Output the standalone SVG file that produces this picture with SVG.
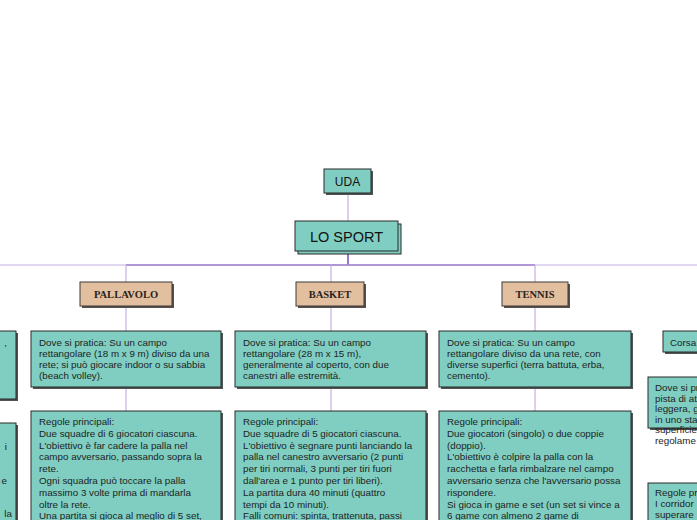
<svg xmlns="http://www.w3.org/2000/svg" width="697" height="520" viewBox="0 0 697 520">
<style>
.bg{fill:#ffffff}
.teal{fill:#7fcec1;stroke:#2b2b2b;stroke-width:1}
.tan{fill:#e2bf9f;stroke:#3a3a3a;stroke-width:1}
.sh{fill:#4f5553}
.shb{fill:#5b5048}
.ln{stroke:#c6b0e2;stroke-width:1.2;fill:none}
.lnd{stroke:#9f80cc;stroke-width:1.4;fill:none}
.lnx{stroke:#7e55bd;stroke-width:1.6;fill:none}
.t{font-family:"Liberation Sans",Arial,sans-serif;font-size:9.8px;fill:#1e1e1e}
.h{font-family:"Liberation Serif","Times New Roman",serif;font-size:10.5px;font-weight:bold;fill:#2a2320}
.top{font-family:"Liberation Sans",Arial,sans-serif;fill:#111}
</style>
<rect class="bg" x="0" y="0" width="697" height="520"/>
<g id="connectors">
<line class="ln" x1="348" y1="193" x2="348" y2="221"/>
<line class="lnx" x1="348" y1="254" x2="348" y2="265"/>
<line class="ln" x1="0" y1="265" x2="697" y2="265"/>
<line class="lnd" x1="126" y1="265" x2="535" y2="265"/>
<line class="ln" x1="126" y1="265" x2="126" y2="282"/>
<line class="ln" x1="331" y1="265" x2="331" y2="282"/>
<line class="ln" x1="535" y1="265" x2="535" y2="282"/>
<line class="ln" x1="126" y1="306" x2="126" y2="331"/>
<line class="ln" x1="331" y1="306" x2="331" y2="331"/>
<line class="ln" x1="535" y1="306" x2="535" y2="331"/>
<line class="ln" x1="126" y1="387" x2="126" y2="411"/>
<line class="ln" x1="331" y1="387" x2="331" y2="411"/>
<line class="ln" x1="535" y1="387" x2="535" y2="411"/>
</g>
<g id="uda">
<rect class="sh" x="326" y="171" width="47" height="24"/>
<rect class="teal" x="324" y="169" width="47" height="24"/>
<text class="top" x="347.5" y="185.5" font-size="12" text-anchor="middle">UDA</text>
</g>
<g id="lo-sport">
<rect class="teal" x="298" y="224" width="103" height="30"/>
<rect class="teal" x="295" y="221" width="103" height="30"/>
<text class="top" x="346.5" y="241.5" font-size="14.5" text-anchor="middle">LO SPORT</text>
</g>
<g id="pallavolo">
<rect class="shb" x="82" y="284" width="92" height="24"/>
<rect class="tan" x="80" y="282" width="92" height="24"/>
<text class="h" x="126" y="298" text-anchor="middle">PALLAVOLO</text>
</g>
<g id="basket">
<rect class="shb" x="298" y="284" width="68" height="24"/>
<rect class="tan" x="296" y="282" width="68" height="24"/>
<text class="h" x="330" y="298" text-anchor="middle">BASKET</text>
</g>
<g id="tennis">
<rect class="shb" x="504" y="284" width="66" height="24"/>
<rect class="tan" x="502" y="282" width="66" height="24"/>
<text class="h" x="535" y="298" text-anchor="middle">TENNIS</text>
</g>
<g id="pallavolo-dove">
<rect class="sh" x="33" y="333" width="190" height="56"/>
<rect class="teal" x="31" y="331" width="190" height="56"/>
<text class="t" x="39" y="346"><tspan x="39">Dove si pratica: Su un campo</tspan><tspan x="39" dy="11.1">rettangolare (18 m x 9 m) diviso da una</tspan><tspan x="39" dy="11.1">rete; si può giocare indoor o su sabbia</tspan><tspan x="39" dy="11.1">(beach volley).</tspan></text>
</g>
<g id="pallavolo-regole">
<rect class="sh" x="33" y="413" width="190" height="150"/>
<rect class="teal" x="31" y="411" width="190" height="150"/>
<text class="t" x="39" y="425"><tspan x="39">Regole principali:</tspan><tspan x="39" dy="11.8">Due squadre di 6 giocatori ciascuna.</tspan><tspan x="39" dy="11.8">L'obiettivo è far cadere la palla nel</tspan><tspan x="39" dy="11.8">campo avversario, passando sopra la</tspan><tspan x="39" dy="11.8">rete.</tspan><tspan x="39" dy="11.8">Ogni squadra può toccare la palla</tspan><tspan x="39" dy="11.8">massimo 3 volte prima di mandarla</tspan><tspan x="39" dy="11.8">oltre la rete.</tspan><tspan x="39" dy="11.8">Una partita si gioca al meglio di 5 set,</tspan></text>
</g>
<g id="basket-dove">
<rect class="sh" x="237" y="333" width="191" height="56"/>
<rect class="teal" x="235" y="331" width="191" height="56"/>
<text class="t" x="243" y="346"><tspan x="243">Dove si pratica: Su un campo</tspan><tspan x="243" dy="11.1">rettangolare (28 m x 15 m),</tspan><tspan x="243" dy="11.1">generalmente al coperto, con due</tspan><tspan x="243" dy="11.1">canestri alle estremità.</tspan></text>
</g>
<g id="basket-regole">
<rect class="sh" x="237" y="413" width="191" height="150"/>
<rect class="teal" x="235" y="411" width="191" height="150"/>
<text class="t" x="243" y="425"><tspan x="243">Regole principali:</tspan><tspan x="243" dy="11.8">Due squadre di 5 giocatori ciascuna.</tspan><tspan x="243" dy="11.8">L'obiettivo è segnare punti lanciando la</tspan><tspan x="243" dy="11.8">palla nel canestro avversario (2 punti</tspan><tspan x="243" dy="11.8">per tiri normali, 3 punti per tiri fuori</tspan><tspan x="243" dy="11.8">dall'area e 1 punto per tiri liberi).</tspan><tspan x="243" dy="11.8">La partita dura 40 minuti (quattro</tspan><tspan x="243" dy="11.8">tempi da 10 minuti).</tspan><tspan x="243" dy="11.8">Falli comuni: spinta, trattenuta, passi</tspan></text>
</g>
<g id="tennis-dove">
<rect class="sh" x="441" y="333" width="192" height="56"/>
<rect class="teal" x="439" y="331" width="192" height="56"/>
<text class="t" x="447" y="346"><tspan x="447">Dove si pratica: Su un campo</tspan><tspan x="447" dy="11.1">rettangolare diviso da una rete, con</tspan><tspan x="447" dy="11.1">diverse superfici (terra battuta, erba,</tspan><tspan x="447" dy="11.1">cemento).</tspan></text>
</g>
<g id="tennis-regole">
<rect class="sh" x="441" y="413" width="192" height="150"/>
<rect class="teal" x="439" y="411" width="192" height="150"/>
<text class="t" x="447" y="425"><tspan x="447">Regole principali:</tspan><tspan x="447" dy="11.8">Due giocatori (singolo) o due coppie</tspan><tspan x="447" dy="11.8">(doppio).</tspan><tspan x="447" dy="11.8">L'obiettivo è colpire la palla con la</tspan><tspan x="447" dy="11.8">racchetta e farla rimbalzare nel campo</tspan><tspan x="447" dy="11.8">avversario senza che l'avversario possa</tspan><tspan x="447" dy="11.8">rispondere.</tspan><tspan x="447" dy="11.8">Si gioca in game e set (un set si vince a</tspan><tspan x="447" dy="11.8">6 game con almeno 2 game di</tspan></text>
</g>
<g id="corsa">
<rect class="sh" x="665" y="333" width="80" height="21"/>
<rect class="teal" x="663" y="331" width="80" height="21"/>
<text class="t" x="670" y="345.5">Corsa</text>
</g>
<g id="corsa-dove">
<rect class="sh" x="650" y="379" width="120" height="51"/>
<rect class="teal" x="648" y="377" width="120" height="51"/>
<text class="t" x="655" y="391"><tspan x="655">Dove si pr</tspan><tspan x="655" dy="10.6">pista di at</tspan><tspan x="655" dy="10.6">leggera, g</tspan><tspan x="655" dy="10.6">in uno sta</tspan><tspan x="655" dy="10.6">superficie</tspan><tspan x="655" dy="10.6">regolame</tspan></text>
</g>
<g id="corsa-regole">
<rect class="sh" x="650" y="485" width="120" height="80"/>
<rect class="teal" x="648" y="483" width="120" height="80"/>
<text class="t" x="655" y="496"><tspan x="655">Regole pr</tspan><tspan x="655" dy="11">I corridor</tspan><tspan x="655" dy="11">superare</tspan></text>
</g>
<g id="left-dove">
<rect class="sh" x="-150" y="333" width="168" height="68"/>
<rect class="teal" x="-152" y="331" width="168" height="68"/>
<text class="t" x="7" y="346" text-anchor="end">,</text>
</g>
<g id="left-regole">
<rect class="sh" x="-150" y="425" width="168" height="140"/>
<rect class="teal" x="-152" y="423" width="168" height="140"/>
<text class="t" x="7" y="450" text-anchor="end">i</text>
<text class="t" x="7" y="484" text-anchor="end">e</text>
<text class="t" x="12" y="517" text-anchor="end">la</text>
</g>
</svg>
